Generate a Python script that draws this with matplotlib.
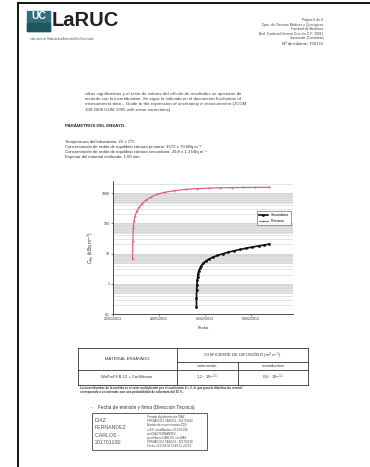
import numpy as np
import matplotlib
matplotlib.use("Agg")
import matplotlib.pyplot as plt
from matplotlib.patches import Rectangle
from matplotlib.lines import Line2D
import matplotlib.ticker as mticker

W, H = 370, 467

# radon concentration (kBq/m3) vs. days from the first date on the axis
prim_days = [2.55, 2.6, 2.65, 2.75, 2.9, 3.1, 3.4, 3.8, 4.3, 5.0, 5.8, 6.8, 8.0, 9.5, 11.0, 12.5, 14.0, 15.5, 17.0, 18.5, 20.4]
prim_vals = [6.5, 25, 70, 120, 180, 250, 340, 450, 580, 750, 920, 1060, 1200, 1320, 1400, 1450, 1490, 1510, 1530, 1540, 1550]
sec_days = [10.9, 10.9, 10.92, 10.95, 11.0, 11.05, 11.1, 11.2, 11.35, 11.55, 11.8, 12.1, 12.5, 13.0, 13.6, 14.3, 15.0, 15.8, 16.6, 17.4, 18.2, 19.0, 19.7, 20.4]
sec_vals = [0.17, 0.35, 0.6, 0.9, 1.3, 1.7, 2.1, 2.7, 3.3, 4.0, 4.8, 5.6, 6.5, 7.5, 8.6, 9.7, 11.0, 12.3, 13.6, 15.0, 16.4, 17.8, 19.0, 20.5]
series_names = ["Secundario", "Primario"]
date_ticks = [0, 6, 12, 18]
date_labels = ["22/01/2013", "28/01/2013", "03/02/2013", "09/02/2013"]
y_ticks = [0.1, 1, 10, 100, 1000]
y_labels = ["0,1", "1", "10", "100", "1000"]

table_material = "WaPreFil B-12 + CarSilicone"
table_mean = r"1,2 $\cdot$ 10$^{-11}$"
table_unc = r"0,6 $\cdot$ 10$^{-11}$"

header_lines = [
    "Página 6 de 8",
    "Dpto. de Ciencias Médicas y Quirúrgicas",
    "Facultad de Medicina",
    "Avd. Cardenal Herrera Oria s/n C.P. 39011",
    "Santander (Cantabria)",
]
report_no = "Nº de informe: 150174"

paragraph = [
    "cifras significativas y el resto de valores del cálculo de resultados se ajustaron de",
    "acuerdo con la incertidumbre. Se sigue lo indicado en el documento Evaluation of",
    "measurement data – Guide to the expression of uncertainty in measurement (JCGM",
    "100:2008 GUM 1995 with minor corrections).",
]
params = [
    "Temperatura del laboratorio: 22 ± 1ºC",
    "Concentración de radón de equilibrio cámara primaria: 1572 ± 70 kBq m⁻³",
    "Concentración de radón de equilibrio cámara secundaria: 20,8 ± 1,1 kBq m⁻³",
    "Espesor del material evaluado: 1,60 mm",
]
footnote = [
    "La incertidumbre de la medida es el valor multiplicado por el coeficiente k = 2, lo que para la distribución normal",
    "corresponde a un intervalo con una probabilidad de cobertura del 95 %.",
]
signer = ["DIAZ", "FERNANDEZ", "CARLOS -", "20170110E"]

plt.rcParams['font.family'] = ['Liberation Sans', 'DejaVu Sans']
fig = plt.figure(figsize=(W / 100, H / 100), dpi=100)


def fx(x):
    return x / W


def fy(y):
    return 1 - y / H


def txt(x, y, s, size=3.0, **kw):
    kw.setdefault('va', 'center')
    fig.text(fx(x), fy(y), s, fontsize=size, **kw)


def hline(x0, x1, y, lw=0.6, color='#333333'):
    fig.add_artist(Line2D([fx(x0), fx(x1)], [fy(y), fy(y)], lw=lw, color=color))


def vline(x, y0, y1, lw=0.6, color='#333333'):
    fig.add_artist(Line2D([fx(x), fx(x)], [fy(y0), fy(y1)], lw=lw, color=color))


# page frame
hline(18, 370, 3, lw=1.4, color='#111111')
vline(18, 3, 467, lw=1.4, color='#111111')

# logo
fig.add_artist(Rectangle((fx(27), fy(31)), fx(23), 20 / H, color='#2f6f7c', transform=fig.transFigure))
fig.add_artist(Rectangle((fx(27), fy(31)), fx(23), 8 / H, color='#1e5560', transform=fig.transFigure))
txt(38.5, 16, "UC", size=7.5, color='white', weight='bold', ha='center')
txt(52, 20, "LaRUC", size=14.5, color='#222222', weight='bold', ha='left')
txt(30, 39, "Laboratorio de Radiactividad Ambiental de la Universidad", size=1.8, color='#555555', ha='left')

# header block on the right
for i, line in enumerate(header_lines):
    txt(323, 20.5 + i * 4.5, line, size=2.4, color='#444444', ha='right')
txt(323, 44, report_no, size=3.0, color='#333333', ha='right')

# body text
for i, line in enumerate(paragraph):
    txt(85, 94 + i * 5.2, line, size=3.15, color='#444444', ha='left')
txt(65, 126, "PARÁMETROS DEL ENSAYO:", size=3.2, color='#222222', weight='bold', ha='left')
for i, line in enumerate(params):
    txt(65, 142 + i * 5.0, line, size=3.1, color='#333333', ha='left')

# chart
ax = fig.add_axes([fx(113), fy(314), fx(180), 133 / H])
ax.set_yscale('log')
ax.set_ylim(0.1, 2500)
ax.set_xlim(0, 23.5)
for k in range(-1, 4):
    ax.axhspan(10 ** (k - 0.35), 10 ** k, color='#e2e2e2', lw=0, zorder=0)
ax.yaxis.set_minor_locator(mticker.LogLocator(base=10, subs=np.arange(2, 10)))
ax.yaxis.set_minor_formatter(mticker.NullFormatter())
ax.grid(True, which='both', axis='y', color='#cfcfcf', lw=0.4, zorder=1)
ax.plot(prim_days, prim_vals, color='#e0556a', lw=0.8, ls='-', marker='o', ms=0.4, zorder=3, label=series_names[1])
ax.plot(sec_days, sec_vals, color='#111111', lw=1.2, ls='-', marker='o', ms=1.0, zorder=3, label=series_names[0])
ax.set_yticks(y_ticks)
ax.set_yticklabels(y_labels)
ax.set_xticks(date_ticks)
ax.set_xticklabels(date_labels)
ax.tick_params(labelsize=2.6, length=1.5, width=0.4, pad=1, colors='#333333')
ax.tick_params(which='minor', length=0)
for s in ('top', 'right'):
    ax.spines[s].set_visible(False)
for s in ('left', 'bottom'):
    ax.spines[s].set_linewidth(0.6)
    ax.spines[s].set_color('#333333')
ax.set_xlabel("Fecha", fontsize=3.0, labelpad=3, color='#333333')
ax.set_ylabel(r"C$_{Rn}$ (kBq m$^{-3}$)", fontsize=3.4, labelpad=4, color='#333333')
handles, labels = ax.get_legend_handles_labels()
leg = ax.legend(handles[::-1], labels[::-1], loc='upper right', bbox_to_anchor=(1.0, 0.79),
                fontsize=2.6, frameon=True, fancybox=False, edgecolor='#555555',
                handlelength=2.5, borderpad=0.6, labelspacing=0.6)
leg.get_frame().set_linewidth(0.5)

# results table
hline(78, 308, 348)
hline(177, 308, 362)
hline(78, 308, 370)
hline(78, 308, 385)
vline(78, 348, 385)
vline(308, 348, 385)
vline(177, 348, 385)
vline(238, 362, 385)
txt(127, 359, "MATERIAL ENSAYADO", size=3.0, color='#333333', ha='center')
txt(242, 355, r"COEFICIENTE DE DIFUSIÓN D (m$^2$ s$^{-1}$)", size=3.0, color='#333333', ha='center')
txt(207, 366, "valor medio", size=2.7, color='#333333', ha='center')
txt(273, 366, "incertidumbre", size=2.7, color='#333333', ha='center')
txt(127, 377, table_material, size=2.9, color='#333333', ha='center')
txt(207, 377, table_mean, size=3.0, color='#333333', ha='center')
txt(273, 377, table_unc, size=3.0, color='#333333', ha='center')
for i, line in enumerate(footnote):
    txt(80, 388 + i * 4, line, size=2.2, color='#333333', weight='bold', ha='left')

# signature
txt(90, 407, "–", size=3.0, color='#555555', ha='left')
txt(98, 407, "Fecha de emisión y firma (Dirección Técnica)", size=3.4, color='#333333', ha='left')
fig.add_artist(Rectangle((fx(92), fy(450)), fx(115), 37 / H, fill=False, lw=0.6,
                         edgecolor='#444444', transform=fig.transFigure))
for i, name in enumerate(signer):
    txt(95, 420 + i * 7.6, name, size=3.8, color='#555555', ha='left')
sig_info = [
    "Firmado digitalmente por DIAZ",
    "FERNANDEZ CARLOS - 20170110E",
    "Nombre de reconocimiento (DN):",
    "c=ES, serialNumber=20170110E,",
    "sn=DIAZ FERNANDEZ,",
    "givenName=CARLOS, cn=DIAZ",
    "FERNANDEZ CARLOS - 20170110E",
    "Fecha: 2017.06.08 12:40:11 +02'00'",
]
for i, line in enumerate(sig_info):
    txt(147, 417 + i * 4.2, line, size=2.0, color='#444444', ha='left')

fig.savefig("out.png", dpi=100)
